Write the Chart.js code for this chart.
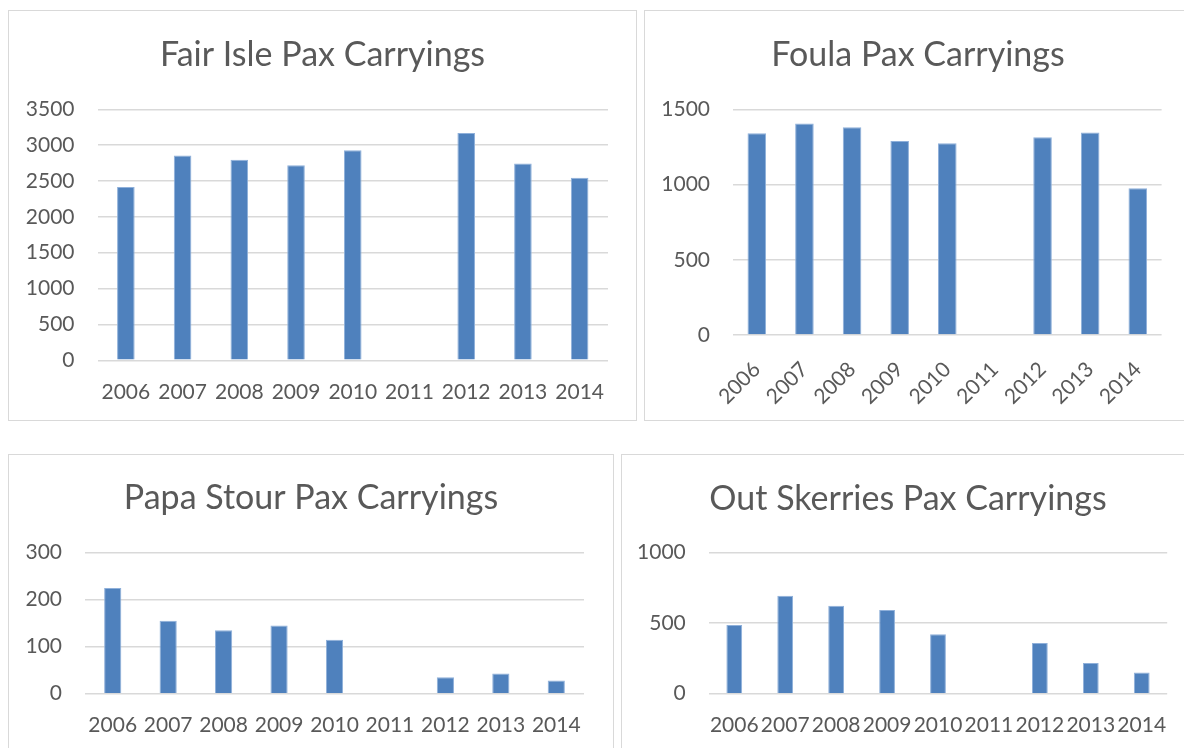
<!DOCTYPE html>
<html>
<head>
<meta charset="utf-8">
<script src="https://cdn.jsdelivr.net/npm/chart.js@4.4.1/dist/chart.umd.min.js"></script>
<style>
  html, body { margin: 0; padding: 0; background: #ffffff; overflow: hidden; }
  body { width: 1184px; height: 748px; position: relative; }
  .card { position: absolute; outline: 1px solid #d9d9d9; background: #fff; }
  .card canvas { position: absolute; left: 0; top: 0; }
</style>
</head>
<body>
<div class="card" id="c1" style="left:9px;top:11px;width:627px;height:409px;"><canvas id="fairIsleChart" width="627" height="409"></canvas></div>
<div class="card" id="c2" style="left:645px;top:11px;width:546px;height:409px;"><canvas id="foulaChart" width="546" height="409"></canvas></div>
<div class="card" id="c3" style="left:9px;top:455px;width:604px;height:300px;"><canvas id="papaChart" width="604" height="300"></canvas></div>
<div class="card" id="c4" style="left:622px;top:455px;width:572px;height:300px;"><canvas id="skerriesChart" width="572" height="300"></canvas></div>
<script>
// ---- data ----
const years = ['2006', '2007', '2008', '2009', '2010', '2011', '2012', '2013', '2014'];
const fairIsle = [2415, 2855, 2795, 2720, 2930, null, 3170, 2745, 2545];
const foula = [1340, 1405, 1380, 1290, 1275, null, 1315, 1345, 975];
const papaStour = [225, 155, 135, 145, 115, null, 35, 43, 28];
const outSkerries = [487, 695, 624, 593, 421, null, 359, 218, 151];

const titles = ['Fair Isle Pax Carryings', 'Foula Pax Carryings', 'Papa Stour Pax Carryings', 'Out Skerries Pax Carryings'];
const yMax = [3500, 1500, 300, 1000];
const yStep = [500, 500, 100, 500];

// ---- styling ----
const FONT = 'Lato, "Open Sans", sans-serif';
const TEXT = '#595959';
const BAR = '#4f81bd';
const GRID = '#d9d9d9';
const TITLE_SIZE = 34;
const TICK_SIZE = 21;

function makeChart(id, title, values, max, step, g) {
  const titleLine = TITLE_SIZE * 1.2;
  const padTop = g.titleCenter - titleLine / 2;
  const padBottom = g.plotTop - padTop - titleLine;
  return new Chart(document.getElementById(id), {
    type: 'bar',
    data: {
      labels: years,
      datasets: [{
        data: values,
        backgroundColor: BAR,
        borderColor: '#8fb0da',
        borderWidth: 1,
        categoryPercentage: 1,
        barPercentage: g.barPct
      }]
    },
    options: {
      responsive: false,
      animation: false,
      layout: { padding: 0 },
      plugins: {
        legend: { display: false },
        tooltip: { enabled: false },
        title: {
          display: true,
          text: title,
          color: TEXT,
          font: { family: FONT, size: TITLE_SIZE, weight: 'normal' },
          padding: { top: padTop, bottom: padBottom }
        }
      },
      scales: {
        x: {
          grid: { display: false, drawTicks: false },
          border: { display: false },
          ticks: {
            color: TEXT,
            font: { family: FONT, size: TICK_SIZE },
            padding: g.xPad,
            minRotation: g.rot,
            maxRotation: g.rot,
            autoSkip: false
          },
          afterFit: (s) => { s.height = g.xHeight; }
        },
        y: {
          min: 0,
          max: max,
          grid: { color: GRID, lineWidth: 1.5, drawTicks: false },
          border: { display: false },
          ticks: {
            stepSize: step,
            color: TEXT,
            font: { family: FONT, size: TICK_SIZE },
            padding: 23,
            callback: (v) => String(v)
          },
          afterFit: (s) => { s.width = g.plotLeft; }
        },
        spacer: {
          type: 'linear',
          position: 'right',
          min: 0,
          max: 1,
          grid: { display: false, drawTicks: false },
          border: { display: false },
          ticks: { display: false },
          afterFit: (s) => { s.width = g.rightPad; }
        }
      }
    }
  });
}

makeChart('fairIsleChart', titles[0], fairIsle, yMax[0], yStep[0],
  { titleCenter: 44.5, plotTop: 98.3, plotLeft: 88.5, rightPad: 28, xHeight: 59.7, xPad: 19, rot: 0, barPct: 0.31 });
makeChart('foulaChart', titles[1], foula, yMax[1], yStep[1],
  { titleCenter: 44.5, plotTop: 98.3, plotLeft: 88, rightPad: 29.4, xHeight: 85, xPad: 22, rot: 45, barPct: 0.39 });
makeChart('papaChart', titles[2], papaStour, yMax[2], yStep[2],
  { titleCenter: 43.5, plotTop: 97.7, plotLeft: 76, rightPad: 29, xHeight: 61.3, xPad: 19, rot: 0, barPct: 0.31 });
makeChart('skerriesChart', titles[3], outSkerries, yMax[3], yStep[3],
  { titleCenter: 44, plotTop: 97.7, plotLeft: 86.8, rightPad: 26.8, xHeight: 61.3, xPad: 19, rot: 0, barPct: 0.31 });
</script>
</body>
</html>
